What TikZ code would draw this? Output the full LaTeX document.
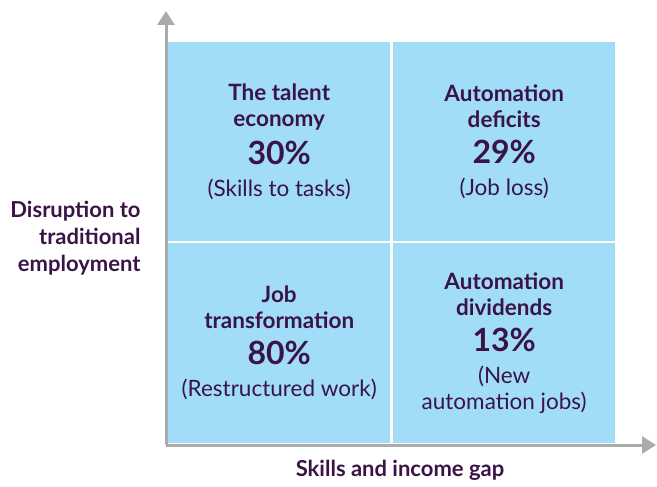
\documentclass[tikz,border=0pt]{standalone}
\usepackage{fontspec}
\setmainfont{Lato}
\usetikzlibrary{arrows.meta}
\definecolor{quadblue}{HTML}{A1DDF9}
\definecolor{inkpurple}{HTML}{3A1446}
\definecolor{axisgray}{HTML}{ABABAB}
\newcommand{\qhead}[1]{{\bfseries #1}}
\newcommand{\qpct}[1]{{\fontsize{32}{36}\selectfont\bfseries #1}}

\begin{document}
\begin{tikzpicture}[x=1pt,y=-1pt,
    quad/.style={fill=quadblue,draw=none,anchor=north west,minimum width=222pt,minimum height=199pt,inner sep=0pt},
    qtext/.style={text=inkpurple,align=center,font=\fontsize{22.5}{26}\selectfont},
    axislabel/.style={text=inkpurple,font=\fontsize{22}{27}\selectfont\bfseries},
    axis/.style={axisgray,line width=3pt,-{Triangle[length=14pt,width=17pt]}}]
    \useasboundingbox (0,0) rectangle (657,487);
    % the four quadrants
    \node[quad] (q1) at (168,42) {};
    \node[quad] (q2) at (393,42) {};
    \node[quad,minimum height=200pt] (q3) at (168,243) {};
    \node[quad,minimum height=200pt] (q4) at (393,243) {};
    \node[qtext] (t1) at (q1.center) {\qhead{The talent}\\\qhead{economy}\\[10pt]\qpct{30\%}\\[6pt](Skills to tasks)};
    \node[qtext] (t2) at (q2.center) {\qhead{Automation}\\\qhead{deficits}\\[10pt]\qpct{29\%}\\[6pt](Job loss)};
    \node[qtext] (t3) at (q3.center) {\qhead{Job}\\\qhead{transformation}\\[10pt]\qpct{80\%}\\[6pt](Restructured work)};
    \node[qtext] (t4) at (q4.center) {\qhead{Automation}\\\qhead{dividends}\\[10pt]\qpct{13\%}\\[6pt](New\\automation jobs)};
    % axes
    \coordinate (origin) at (166,445);
    \coordinate (ytip) at (166,11);
    \coordinate (xtip) at (656,445);
    \draw[axis] (origin) -- (ytip);
    \draw[axis] (origin) -- (xtip);
    \node[axislabel,align=right,anchor=east] (ylab) at (144,238) {Disruption to\\traditional\\employment};
    \node[axislabel] (xlab) at (400,470) {Skills and income gap};
\end{tikzpicture}
\end{document}
